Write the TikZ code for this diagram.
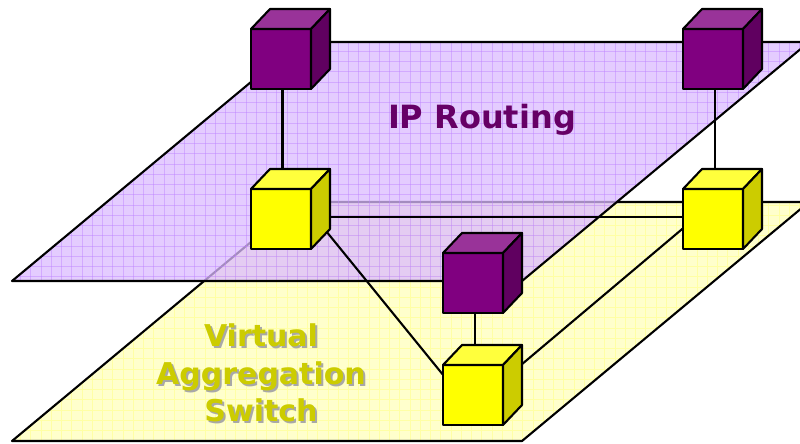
\documentclass[tikz,border=0pt]{standalone}
\usepackage{fontspec}
\setmainfont{DejaVu Sans}
\usetikzlibrary{calc}
\definecolor{yfill}{RGB}{255,255,204}
\definecolor{ygridc}{RGB}{255,255,165}
\definecolor{pfill}{RGB}{220,187,255}
\definecolor{pgridc}{RGB}{190,130,255}
\definecolor{pfront}{RGB}{128,0,128}
\definecolor{ptop}{RGB}{153,51,153}
\definecolor{pside}{RGB}{96,0,96}
\definecolor{yfront}{RGB}{255,255,0}
\definecolor{ytop}{RGB}{255,255,60}
\definecolor{yside}{RGB}{204,204,0}
\definecolor{iptext}{RGB}{102,0,102}
\definecolor{vastext}{RGB}{204,204,0}
\definecolor{shadowc}{RGB}{168,168,168}
\tikzset{
  edgeline/.style={draw=black, line width=2.1pt, line join=round},
  conn/.style={draw=black, line width=2.1pt},
  cubeline/.style={draw=black, line width=2.1pt, line join=round},
  cubebox/.style={cubeline, minimum width=60pt, minimum height=60pt, inner sep=0pt, outer sep=0pt},
  pcube/.style={cubebox, fill=pfront},
  ycube/.style={cubebox, fill=yfront},
  ygrid/.style={draw=ygridc, line width=0.8pt},
  pgrid/.style={draw=pgridc, line width=0.8pt, draw opacity=0.45},
}
\newcommand\cubefaces[3]{%
  \filldraw[cubeline, fill=#2] (#1.north west) -- ++(19,-20) -- ++(60,0) -- (#1.north east) -- cycle;
  \filldraw[cubeline, fill=#3] (#1.north east) -- ++(19,-20) -- ++(0,60) -- (#1.south east) -- cycle;
}
\begin{document}
\begin{tikzpicture}[x=1pt,y=-1pt]
\useasboundingbox (0,0) rectangle (800,444);
\fill[white] (0,0) rectangle (800,444);
% yellow plane
\coordinate (ya) at (12,441);
\coordinate (yb) at (522,441);
\coordinate (yc) at (809,202);
\coordinate (yd) at (299,202);
\fill[yfill] (ya) -- (yb) -- (yc) -- (yd) -- cycle;
\begin{scope}
  \clip (ya) -- (yb) -- (yc) -- (yd) -- cycle;
  \foreach \i in {0,...,80} \draw[ygrid] (\i*10.25,0) -- (\i*10.25,450);
  \foreach \j in {0,...,44} \draw[ygrid] (0,\j*10.25) -- (820,\j*10.25);
\end{scope}
\draw[edgeline] (ya) -- (yb) -- (yc) -- (yd) -- cycle;
% purple plane
\coordinate (pa) at (12,281);
\coordinate (pb) at (522,281);
\coordinate (pc) at (809,42);
\coordinate (pd) at (299,42);
\fill[pfill, fill opacity=0.75] (pa) -- (pb) -- (pc) -- (pd) -- cycle;
\begin{scope}
  \clip (pa) -- (pb) -- (pc) -- (pd) -- cycle;
  \foreach \i in {0,...,80} \draw[pgrid] (\i*10.25,0) -- (\i*10.25,450);
  \foreach \j in {0,...,44} \draw[pgrid] (0,\j*10.25) -- (820,\j*10.25);
\end{scope}
\draw[edgeline] (pa) -- (pb) -- (pc) -- (pd) -- cycle;
% labels
\node[text=iptext, font=\bfseries\fontsize{32}{38}\selectfont, inner sep=0pt] (iplabel) at (482,120) {IP Routing};
\node[text=shadowc, font=\bfseries\fontsize{30}{37.5}\selectfont, align=center, inner sep=0pt] (vasshadow) at (263,375) {Virtual\\Aggregation\\Switch};
\node[text=vastext, font=\bfseries\fontsize{30}{37.5}\selectfont, align=center, inner sep=0pt] (vaslabel) at (261,373) {Virtual\\Aggregation\\Switch};
% cube positions
\coordinate (p1c) at (281,59);
\coordinate (p2c) at (473,283);
\coordinate (p3c) at (713,59);
\coordinate (y1c) at (281,219);
\coordinate (y2c) at (473,395);
\coordinate (y3c) at (713,219);
% connectors
\draw[conn] ([xshift=1.5pt]p1c) -- ([xshift=1.5pt]y1c);
\draw[conn] ([xshift=2pt]p2c) -- ([xshift=2pt]y2c);
\draw[conn] ([xshift=2pt]p3c) -- ([xshift=2pt]y3c);
\draw[conn] ([yshift=2pt]y1c) -- ([yshift=2pt]y3c);
\draw[conn] ($(y1c)+(19,-20)$) -- ($(y2c)+(-3,13)$);
\draw[conn] ($(y2c)+(-3,13)$) -- ($(y3c)+(-13,-5)$);
% cubes
\node[pcube] (p1) at (p1c) {}; \cubefaces{p1}{ptop}{pside}
\node[pcube] (p3) at (p3c) {}; \cubefaces{p3}{ptop}{pside}
\node[ycube] (y1) at (y1c) {}; \cubefaces{y1}{ytop}{yside}
\node[ycube] (y3) at (y3c) {}; \cubefaces{y3}{ytop}{yside}
\node[pcube] (p2) at (p2c) {}; \cubefaces{p2}{ptop}{pside}
\node[ycube] (y2) at (y2c) {}; \cubefaces{y2}{ytop}{yside}
\end{tikzpicture}
\end{document}
